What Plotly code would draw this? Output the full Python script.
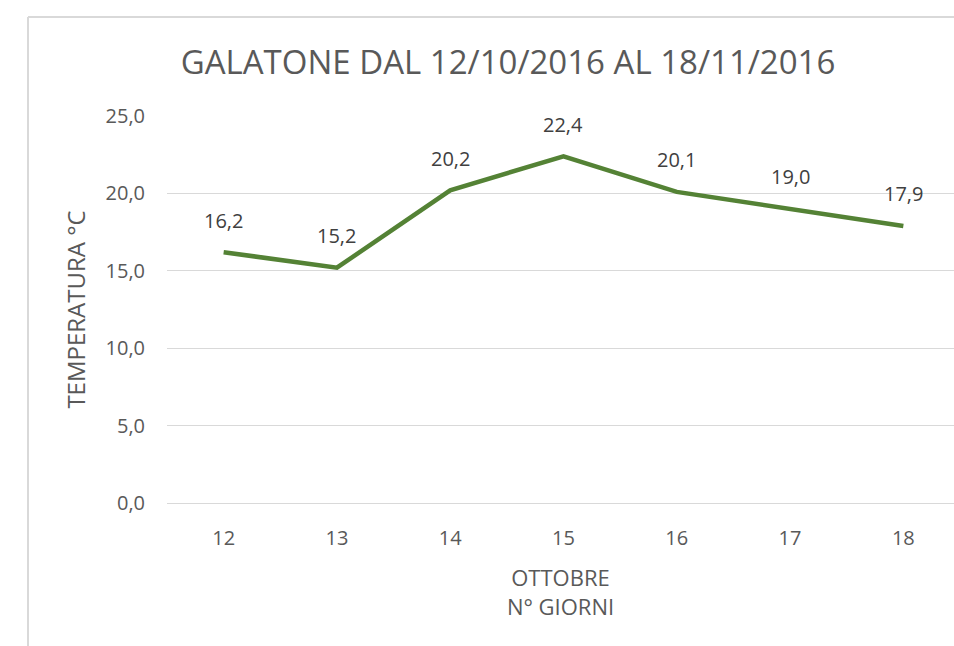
import plotly.graph_objects as go

days = ["12", "13", "14", "15", "16", "17", "18"]
temps = [16.2, 15.2, 20.2, 22.4, 20.1, 19.0, 17.9]
y_ticks = [0, 5, 10, 15, 20, 25]

W, H = 954, 646
L, R, T, B = 167, 0, 116, 646 - 503
pw = W - L - R
ph = H - T - B

def fmt(v):
    return f"{v:.1f}".replace(".", ",")

fig = go.Figure()
fig.add_trace(go.Scatter(
    x=list(range(len(days))), y=temps, mode="lines",
    line=dict(color="#548235", width=4.5),
    hoverinfo="skip", showlegend=False,
))

for i, v in enumerate(temps):
    fig.add_annotation(x=i, y=v, text=fmt(v), showarrow=False, yshift=32,
                       font=dict(family="Open Sans", size=20, color="#404040"))

gray = "#595959"
fig.update_layout(
    width=W, height=H,
    margin=dict(l=L, r=R, t=T, b=B, pad=0),
    paper_bgcolor="white", plot_bgcolor="white",
    separators=",.",
    font=dict(family="Open Sans", color=gray),
    title=dict(text="GALATONE DAL 12/10/2016 AL 18/11/2016",
               x=508 / W, xanchor="center", y=1 - 62 / H, yanchor="middle",
               font=dict(family="Open Sans", size=33, color=gray)),
    xaxis=dict(
        tickmode="array", tickvals=list(range(len(days))), ticktext=days,
        range=[-0.5, 6.5 - 6 / 113.5],
        showgrid=False, zeroline=False, showline=False, ticks="",
        ticklabelstandoff=21,
        tickfont=dict(size=20, color=gray),
        title=dict(text="OTTOBRE<br>N° GIORNI", font=dict(size=22, color=gray), standoff=20),
        fixedrange=True,
    ),
    yaxis=dict(
        range=[0, 25], tickvals=y_ticks, tickformat=".1f",
        showgrid=True, gridcolor="#d9d9d9", gridwidth=1,
        zeroline=True, zerolinecolor="#d9d9d9", zerolinewidth=1,
        showline=False, ticks="", ticklabelstandoff=21,
        tickfont=dict(size=20, color=gray),
        title=dict(text="TEMPERATURA °C", font=dict(size=24, color=gray), standoff=13),
        fixedrange=True,
    ),
)

# outer chart border (top and left edges)
x_border = (28 - L) / pw
y_top = 1 + (T - 17) / ph
y_bot = 1 - (H - T) / ph
fig.add_shape(type="line", xref="paper", yref="paper", x0=x_border, x1=1.05,
              y0=y_top, y1=y_top, line=dict(color="#d9d9d9", width=2))
fig.add_shape(type="line", xref="paper", yref="paper", x0=x_border, x1=x_border,
              y0=y_top, y1=y_bot - 0.05, line=dict(color="#d9d9d9", width=2))

fig.write_html(
    "out.html",
    config={"displayModeBar": False, "staticPlot": True},
    post_script="document.body.style.margin='0';document.body.style.overflow='hidden';",
)
